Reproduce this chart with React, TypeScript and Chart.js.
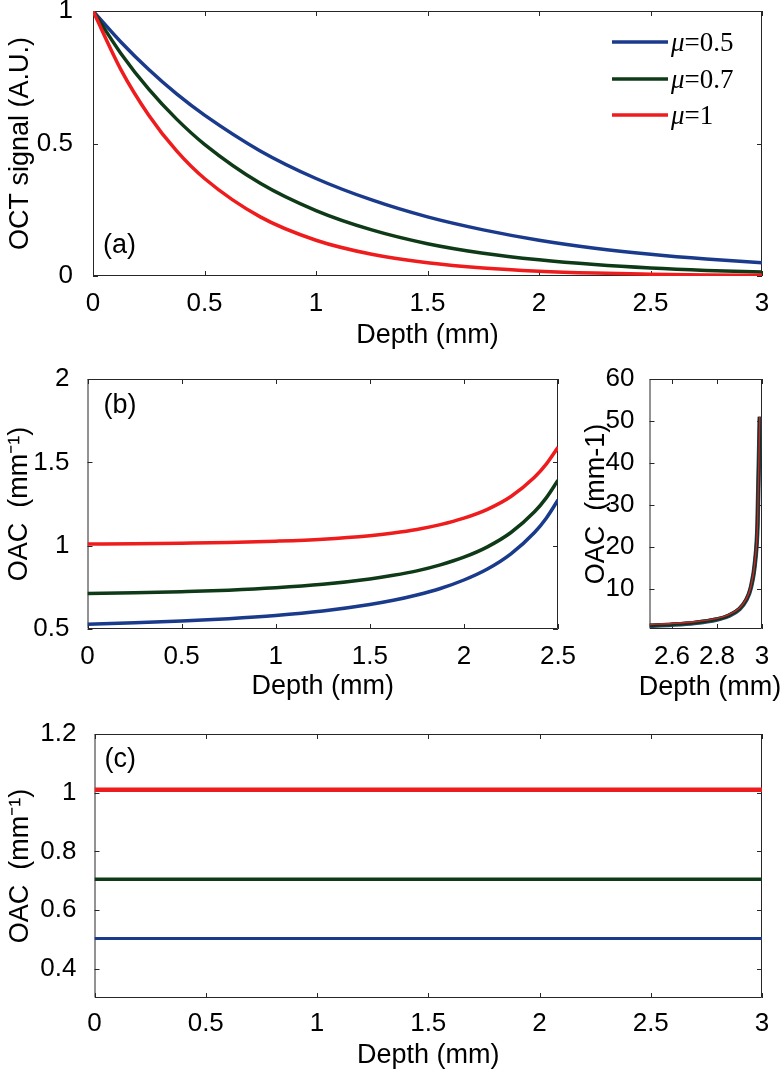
import React, { useEffect, useRef } from "react";
import { Chart, registerables } from "chart.js";

Chart.register(...registerables);

// ---------- data ----------
const seriesLabels = ["μ=0.5", "μ=0.7", "μ=1"];
const seriesColors = ["#1a3a8c", "#0f3a18", "#ee1c1c"];
const panelLabels = ["(a)", "(b)", "(c)"];

// (a) OCT signal vs depth
const depthA = [0, 0.125, 0.25, 0.375, 0.5, 0.75, 1, 1.25, 1.5, 1.75, 2, 2.25, 2.5, 2.75, 3];
const signalMu05 = [1, 0.883, 0.779, 0.687, 0.607, 0.472, 0.368, 0.287, 0.223, 0.174, 0.135, 0.105, 0.082, 0.064, 0.05];
const signalMu07 = [1, 0.84, 0.705, 0.592, 0.497, 0.35, 0.247, 0.174, 0.122, 0.086, 0.061, 0.043, 0.03, 0.021, 0.015];
const signalMu10 = [1, 0.779, 0.607, 0.472, 0.368, 0.223, 0.135, 0.082, 0.05, 0.03, 0.018, 0.011, 0.007, 0.004, 0.0025];

// (b) OAC vs depth, 0 - 2.5 mm
const depthB = [0, 0.25, 0.5, 0.75, 1, 1.25, 1.5, 1.625, 1.75, 1.875, 2, 2.125, 2.25, 2.375, 2.4375, 2.5];
const oacB05 = [0.529, 0.537, 0.548, 0.562, 0.581, 0.608, 0.647, 0.672, 0.704, 0.743, 0.794, 0.86, 0.951, 1.079, 1.165, 1.274];
const oacB07 = [0.713, 0.717, 0.724, 0.733, 0.747, 0.768, 0.8, 0.822, 0.849, 0.885, 0.931, 0.993, 1.079, 1.203, 1.287, 1.393];
const oacB10 = [1.01, 1.012, 1.015, 1.019, 1.027, 1.039, 1.06, 1.076, 1.097, 1.126, 1.165, 1.218, 1.295, 1.41, 1.489, 1.59];

// (b) inset, 2.5 - 3 mm
const depthInset = [2.5, 2.6, 2.7, 2.8, 2.85, 2.9, 2.93, 2.95, 2.97, 2.98, 2.99];
const oacIn05 = [1.27, 1.52, 1.93, 2.76, 3.59, 5.25, 7.4, 10.25, 16.9, 25.3, 51];
const oacIn07 = [1.39, 1.63, 2.04, 2.87, 3.7, 5.36, 7.5, 10.35, 17.0, 25.4, 51];
const oacIn10 = [1.58, 1.82, 2.22, 3.03, 3.86, 5.52, 7.66, 10.5, 17.2, 25.5, 51];

// (c) corrected OAC
const depthC = [0, 3];
const oacC05 = [0.503, 0.503];
const oacC07 = [0.705, 0.705];
const oacC10 = [1.01, 1.01];

// ticks
const ticksAX = [0, 0.5, 1, 1.5, 2, 2.5, 3];
const ticksAY = [0, 0.5, 1];
const ticksBX = [0, 0.5, 1, 1.5, 2, 2.5];
const ticksBY = [0.5, 1, 1.5, 2];
const ticksInX = [2.6, 2.8, 3];
const ticksInY = [10, 20, 30, 40, 50, 60];
const ticksCX = [0, 0.5, 1, 1.5, 2, 2.5, 3];
const ticksCY = [0.4, 0.6, 0.8, 1, 1.2];

// ---------- styling helpers ----------
const W = 780;
const H = 1076;
const SANS = "'Liberation Sans', Arial, Helvetica, sans-serif";
const SERIF = "'Liberation Serif', 'Times New Roman', serif";
const FONT_SIZE = 26;
const TITLE_SIZE = 27;
const AXIS_COLOR = "#262626";

function pts(xs: number[], ys: number[]) {
  return xs.map((x, i) => ({ x, y: ys[i] }));
}

const boxPlugin = {
  id: "matlabBox",
  beforeDatasetsDraw(chart: any) {
    const { ctx, chartArea } = chart;
    const { left, right, top, bottom } = chartArea;
    const tl = 5;
    ctx.save();
    ctx.strokeStyle = AXIS_COLOR;
    ctx.lineWidth = 1;
    ctx.beginPath();
    ctx.rect(left + 0.5, top + 0.5, right - left - 1, bottom - top - 1);
    ctx.stroke();
    const xs = chart.scales.x;
    const ys = chart.scales.y;
    ctx.beginPath();
    xs.ticks.forEach((t: any) => {
      const px = Math.round(xs.getPixelForValue(t.value)) + 0.5;
      ctx.moveTo(px, bottom);
      ctx.lineTo(px, bottom - tl);
      ctx.moveTo(px, top);
      ctx.lineTo(px, top + tl);
    });
    ys.ticks.forEach((t: any) => {
      const py = Math.round(ys.getPixelForValue(t.value)) + 0.5;
      ctx.moveTo(left, py);
      ctx.lineTo(left + tl, py);
      ctx.moveTo(right, py);
      ctx.lineTo(right - tl, py);
    });
    ctx.stroke();
    ctx.restore();
  },
  afterDatasetsDraw(chart: any, _args: any, opts: any) {
    const { ctx, chartArea } = chart;
    if (opts && opts.panelLabel) {
      ctx.save();
      ctx.fillStyle = "#000";
      ctx.font = `${TITLE_SIZE}px ${SANS}`;
      ctx.textBaseline = "middle";
      ctx.textAlign = "left";
      const y = opts.labelFromBottom
        ? chartArea.bottom - opts.labelDy
        : chartArea.top + opts.labelDy;
      ctx.fillText(opts.panelLabel, chartArea.left + opts.labelDx, y);
      ctx.restore();
    }
    if (opts && opts.freeXTitle) {
      // wide x-axis title that must not be squeezed to the narrow inset width
      ctx.save();
      ctx.fillStyle = "#000";
      ctx.font = `${TITLE_SIZE}px ${SANS}`;
      ctx.textBaseline = "middle";
      ctx.textAlign = "center";
      ctx.fillText(opts.freeXTitle, opts.freeXTitleX, opts.freeXTitleY);
      ctx.restore();
    }
    if (opts && opts.legend) {
      ctx.save();
      const x0 = 612;
      const x1 = 668;
      const rows = [42, 79, 115];
      chart.data.datasets
        .slice()
        .sort((a: any, b: any) => a.legendIndex - b.legendIndex)
        .forEach((ds: any, i: number) => {
          const y = rows[i];
          ctx.strokeStyle = ds.borderColor;
          ctx.lineWidth = 3.5;
          ctx.beginPath();
          ctx.moveTo(x0, y);
          ctx.lineTo(x1, y);
          ctx.stroke();
          const label: string = ds.label;
          const greek = label.charAt(0);
          const rest = label.slice(1);
          ctx.fillStyle = "#000";
          ctx.textBaseline = "middle";
          ctx.textAlign = "left";
          ctx.font = `italic ${TITLE_SIZE}px ${SERIF}`;
          ctx.fillText(greek, x1 + 3, y + 2);
          const gw = ctx.measureText(greek).width;
          ctx.font = `${TITLE_SIZE}px ${SERIF}`;
          ctx.fillText(rest, x1 + 3 + gw, y + 2);
        });
      ctx.restore();
    }
  },
};

type PanelSpec = {
  left: number;
  right: number;
  top: number;
  bottom: number;
  xHeight: number;
  xMin: number;
  xMax: number;
  yMin: number;
  yMax: number;
  xTicks: number[];
  yTicks: number[];
  xTickPad: number;
  yTickPad: number;
  yTitlePad: number;
  padLeft: number;
  xTitle: string;
  showXTitle: boolean;
  yTitle: string;
  datasets: any[];
  plugin: any;
};

function makeConfig(p: PanelSpec): any {
  const yWidth = p.left - p.padLeft;
  return {
    type: "line",
    data: { datasets: p.datasets },
    options: {
      responsive: false,
      animation: false,
      devicePixelRatio: 1,
      layout: {
        padding: {
          left: p.padLeft,
          top: p.top,
          right: W - p.right,
          bottom: H - p.bottom - p.xHeight,
        },
      },
      plugins: {
        legend: { display: false },
        tooltip: { enabled: false },
        matlabBox: p.plugin,
      },
      elements: { point: { radius: 0 } },
      scales: {
        x: {
          type: "linear",
          min: p.xMin,
          max: p.xMax,
          grid: { display: false },
          border: { display: false },
          afterBuildTicks: (s: any) => {
            s.ticks = p.xTicks.map((v) => ({ value: v }));
          },
          afterFit: (s: any) => {
            s.height = p.xHeight;
            s.paddingLeft = 0;
            s.paddingRight = 0;
            s.paddingTop = 0;
            s.paddingBottom = 0;
          },
          ticks: {
            autoSkip: false,
            maxRotation: 0,
            padding: p.xTickPad,
            color: "#000",
            font: { family: SANS, size: FONT_SIZE },
            callback: (v: any) => String(v),
          },
          title: {
            display: p.showXTitle,
            text: p.xTitle,
            color: "#000",
            font: { family: SANS, size: TITLE_SIZE },
            padding: { top: 0, bottom: 0 },
          },
        },
        y: {
          type: "linear",
          min: p.yMin,
          max: p.yMax,
          grid: { display: false },
          border: { display: false },
          afterBuildTicks: (s: any) => {
            s.ticks = p.yTicks.map((v) => ({ value: v }));
          },
          afterFit: (s: any) => {
            s.width = yWidth;
            s.paddingLeft = 0;
            s.paddingRight = 0;
            s.paddingTop = 0;
            s.paddingBottom = 0;
          },
          ticks: {
            autoSkip: false,
            padding: p.yTickPad,
            color: "#000",
            font: { family: SANS, size: FONT_SIZE },
            callback: (v: any) => String(v),
          },
          title: {
            display: true,
            text: p.yTitle,
            color: "#000",
            font: { family: SANS, size: TITLE_SIZE },
            padding: { top: p.yTitlePad, bottom: 0 },
          },
        },
      },
    },
  };
}

function ds(label: string, color: string, xs: number[], ys: number[], width: number, order: number, legendIndex: number) {
  return {
    label,
    data: pts(xs, ys),
    borderColor: color,
    backgroundColor: color,
    borderWidth: width,
    fill: false,
    cubicInterpolationMode: "monotone",
    pointRadius: 0,
    order,
    legendIndex,
  };
}

const panels: PanelSpec[] = [
  {
    left: 93, right: 762, top: 11, bottom: 276, xHeight: 76,
    xMin: 0, xMax: 3, yMin: 0, yMax: 1,
    xTicks: ticksAX, yTicks: ticksAY,
    xTickPad: 4, yTickPad: 12, yTitlePad: 4, padLeft: 0,
    xTitle: "Depth (mm)", showXTitle: true, yTitle: "OCT signal (A.U.)",
    datasets: [
      ds(seriesLabels[0], seriesColors[0], depthA, signalMu05, 3.5, 3, 0),
      ds(seriesLabels[1], seriesColors[1], depthA, signalMu07, 3.5, 2, 1),
      ds(seriesLabels[2], seriesColors[2], depthA, signalMu10, 3.5, 1, 2),
    ],
    plugin: { panelLabel: panelLabels[0], labelDx: 10, labelDy: 30, labelFromBottom: true, legend: true },
  },
  {
    left: 87.5, right: 558, top: 379, bottom: 629, xHeight: 74,
    xMin: 0, xMax: 2.5, yMin: 0.5, yMax: 2,
    xTicks: ticksBX, yTicks: ticksBY,
    xTickPad: 4, yTickPad: 10, yTitlePad: 3, padLeft: 0,
    xTitle: "Depth (mm)", showXTitle: true, yTitle: "OAC  (mm⁻¹)",
    datasets: [
      ds(seriesLabels[0], seriesColors[0], depthB, oacB05, 3.5, 3, 0),
      ds(seriesLabels[1], seriesColors[1], depthB, oacB07, 3.5, 2, 1),
      ds(seriesLabels[2], seriesColors[2], depthB, oacB10, 3.5, 1, 2),
    ],
    plugin: { panelLabel: panelLabels[1], labelDx: 16, labelDy: 27, labelFromBottom: false },
  },
  {
    left: 649.5, right: 762, top: 379, bottom: 629, xHeight: 74,
    xMin: 2.5, xMax: 3, yMin: 0.5, yMax: 60,
    xTicks: ticksInX, yTicks: ticksInY,
    xTickPad: 4, yTickPad: 7, yTitlePad: 0, padLeft: 580,
    xTitle: "Depth (mm)", showXTitle: false, yTitle: "OAC  (mm-1)",
    datasets: [
      ds(seriesLabels[0], "#2a4a6a", depthInset, oacIn05, 4.5, 3, 0),
      ds(seriesLabels[1], "#16301e", depthInset, oacIn07, 3.5, 2, 1),
      ds(seriesLabels[2], "#c02a2a", depthInset, oacIn10, 1.4, 1, 2),
    ],
    plugin: { freeXTitle: "Depth (mm)", freeXTitleX: 710, freeXTitleY: 688 },
  },
  {
    left: 94.5, right: 762, top: 734, bottom: 998, xHeight: 74,
    xMin: 0, xMax: 3, yMin: 0.3, yMax: 1.2,
    xTicks: ticksCX, yTicks: ticksCY,
    xTickPad: 2, yTickPad: 10, yTitlePad: 4, padLeft: 0,
    xTitle: "Depth (mm)", showXTitle: true, yTitle: "OAC  (mm⁻¹)",
    datasets: [
      ds(seriesLabels[0], seriesColors[0], depthC, oacC05, 3, 3, 0),
      ds(seriesLabels[1], seriesColors[1], depthC, oacC07, 3.5, 2, 1),
      ds(seriesLabels[2], seriesColors[2], depthC, oacC10, 4.5, 1, 2),
    ],
    plugin: { panelLabel: panelLabels[2], labelDx: 10, labelDy: 26, labelFromBottom: false },
  },
];

function Panel({ spec }: { spec: PanelSpec }) {
  const ref = useRef<HTMLCanvasElement | null>(null);
  useEffect(() => {
    if (!ref.current) return;
    const chart = new Chart(ref.current, {
      ...makeConfig(spec),
      plugins: [boxPlugin],
    });
    return () => chart.destroy();
  }, [spec]);
  return (
    <canvas
      ref={ref}
      width={W}
      height={H}
      style={{ position: "absolute", left: 0, top: 0, width: W, height: H }}
    />
  );
}

export default function App() {
  return (
    <div
      style={{
        position: "absolute",
        left: 0,
        top: 0,
        width: W,
        height: H,
        background: "#fff",
        overflow: "hidden",
      }}
    >
      {panels.map((p, i) => (
        <Panel key={i} spec={p} />
      ))}
    </div>
  );
}
